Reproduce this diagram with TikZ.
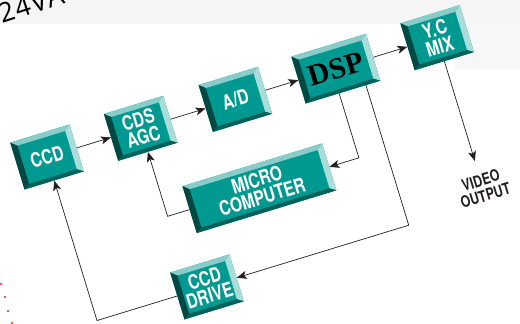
\documentclass[tikz,border=0pt]{standalone}
\usepackage{fontspec}
\setmainfont{Liberation Sans}
\newfontfamily\condb{TeX Gyre Heros}[FakeStretch=0.78]
\newfontfamily\dspfont{Liberation Serif}
\newfontfamily\handfont{Open Sans}[LetterSpace=5]
\usetikzlibrary{arrows.meta}
\definecolor{bface}{RGB}{0,153,146}
\definecolor{btop}{RGB}{138,204,199}
\definecolor{bright}{RGB}{172,220,216}
\definecolor{bleft}{RGB}{0,72,66}
\definecolor{bbot}{RGB}{0,96,90}
\definecolor{ink}{RGB}{35,31,32}
\definecolor{dotred}{RGB}{226,30,40}
\tikzset{
  boxtext/.style={transform shape, inner sep=0pt, align=center, text=white,
    font=\condb\bfseries\fontsize{20}{18}\selectfont},
  conn/.style={draw=ink, line width=0.7pt},
  arr/.style={conn, -{Stealth[length=10pt,width=8pt,inset=2.5pt]}},
}
\newcommand\bevbox[7][]{%
  \pgfmathsetmacro\bxa{#3-#5/2}\pgfmathsetmacro\bxb{#3+#5/2}%
  \pgfmathsetmacro\bya{#4-#6/2}\pgfmathsetmacro\byb{#4+#6/2}%
  \pgfmathsetmacro\bxc{\bxa+6}\pgfmathsetmacro\bxd{\bxb-6}%
  \pgfmathsetmacro\byc{\bya+4}\pgfmathsetmacro\byd{\byb-5}%
  \fill[bface] (\bxa,\bya) rectangle (\bxb,\byb);
  \fill[btop] (\bxa,\byb) -- (\bxb,\byb) -- (\bxd,\byd) -- (\bxc,\byd) -- cycle;
  \fill[bright] (\bxb,\byb) -- (\bxb,\bya) -- (\bxd,\byc) -- (\bxd,\byd) -- cycle;
  \fill[bbot] (\bxb,\bya) -- (\bxa,\bya) -- (\bxc,\byc) -- (\bxd,\byc) -- cycle;
  \fill[bleft] (\bxa,\bya) -- (\bxa,\byb) -- (\bxc,\byd) -- (\bxc,\byc) -- cycle;
  \node[boxtext, minimum width=#5pt, minimum height=#6pt, #1] (#2) at (#3,#4) {#7};
}
\begin{document}
\begin{tikzpicture}[x=1pt,y=1pt]
\useasboundingbox (0,0) rectangle (520,324);
\fill[white] (0,0) rectangle (520,324);
\fill[black!4] (0,300) rectangle (520,324);
\fill[black!3] (455,254) rectangle (520,300);
% handwritten fragment at top left
\node[anchor=base west, rotate=18, inner sep=0pt, text=black,
      font=\handfont\fontsize{27}{27}\selectfont] (hand) at (2,300) {24VAC};
% red dots
\foreach \p in {(1,40),(5,27),(8,13),(12,1)}
  \fill[dotred] \p circle (1.1pt);
\begin{scope}[shift={(47,167)}, rotate=17]
  \bevbox{ccd}{0}{0}{62}{49}{CCD}
  \bevbox{cds}{98}{0}{62}{49}{CDS\\AGC}
  \bevbox{ad}{197}{0}{62}{49}{A/D}
  \bevbox[text=black, font=\dspfont\bfseries\fontsize{30}{30}\selectfont]{dsp}{302}{0}{78}{49}{DSP}
  \bevbox{yc}{408}{0}{62}{49}{Y.C\\MIX}
  \bevbox{micro}{194}{-92}{146}{49}{MICRO\\COMPUTER}
  \bevbox{drive}{115}{-171}{62}{49}{CCD\\DRIVE}
  \node[transform shape, inner sep=0pt, align=center, text=ink,
        font=\condb\bfseries\fontsize{16}{16}\selectfont] (vo) at (408,-157) {VIDEO\\OUTPUT};
  % coordinates
  \coordinate (vtip) at (408,-129);
  \coordinate (d1) at (298,-24.5);
  \coordinate (d1c) at (298,-92);
  \coordinate (d2) at (326,-24.5);
  \coordinate (d2c) at (326,-171);
  \coordinate (mc) at (98,-92);
  \coordinate (dc) at (0,-171);
  % connectors
  \draw[arr] (ccd.east) -- (cds.west);
  \draw[arr] (cds.east) -- (ad.west);
  \draw[arr] (ad.east) -- (dsp.west);
  \draw[arr] (dsp.east) -- (yc.west);
  \draw[arr] (yc.south) -- (vtip);
  \draw[arr] (d1) -- (d1c) -- (micro.east);
  \draw[arr] (d2) -- (d2c) -- (drive.east);
  \draw[arr] (micro.west) -- (mc) -- (cds.south);
  \draw[arr] (drive.west) -- (dc) -- (ccd.south);
\end{scope}
\end{tikzpicture}
\end{document}
